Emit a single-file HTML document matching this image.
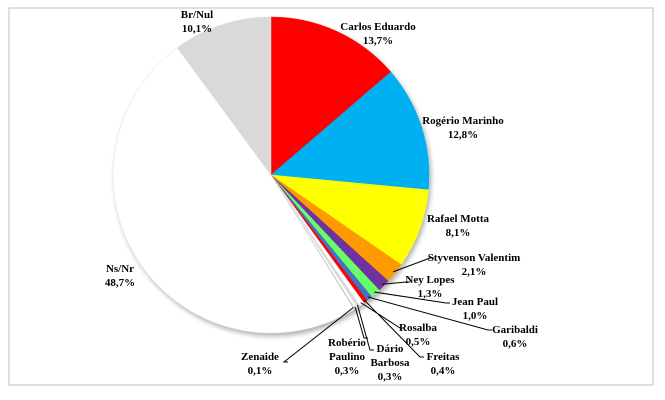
<!DOCTYPE html>
<html><head><meta charset="utf-8"><style>
body{margin:0;background:#fff;}
svg{display:block;}
text{font-family:"Liberation Serif",serif;font-weight:bold;font-size:11px;fill:#000;text-anchor:middle;}
</style></head><body>
<svg id="chart" width="665" height="400" viewBox="0 0 665 400">
<defs><filter id="sh" x="-10%" y="-10%" width="120%" height="120%"><feDropShadow dx="2" dy="3" stdDeviation="2.5" flood-color="#000" flood-opacity="0.3"/></filter></defs>
<rect x="9" y="8" width="644" height="377" fill="#fff" stroke="#bfbfbf" stroke-width="1"/>
<g id="slices" filter="url(#sh)"></g>
<g id="leaders"></g>
<g id="labels"></g>
</svg>
<script>
const categories=["Carlos Eduardo","Rogério Marinho","Rafael Motta","Styvenson Valentim","Ney Lopes","Jean Paul","Garibaldi","Freitas","Rosalba","Dário Barbosa","Robério Paulino","Zenaide","Ns/Nr","Br/Nul"];
const values=[13.7,12.8,8.1,2.1,1.3,1.0,0.6,0.4,0.5,0.3,0.3,0.1,48.7,10.1];
const valueLabels=["13,7%","12,8%","8,1%","2,1%","1,3%","1,0%","0,6%","0,4%","0,5%","0,3%","0,3%","0,1%","48,7%","10,1%"];
const colors=["#ff0000","#00b0f0","#ffff00","#ff9900","#7030a0","#66ff66","#4472c4","#ff0000","#ffffff","#d9d9d9","#ffffff","#c0c0c0","#ffffff","#d9d9d9"];
// label layout: [center x, first line y, lines], leader end [x,y] or null
const labelLines=[["Carlos Eduardo"],["Rogério Marinho"],["Rafael Motta"],["Styvenson Valentim"],["Ney Lopes"],["Jean Paul"],["Garibaldi"],["Freitas"],["Rosalba"],["Dário","Barbosa"],["Robério","Paulino"],["Zenaide"],["Ns/Nr"],["Br/Nul"]];
const labelPos=[[378,30],[463,124],[458,222],[474,261],[430,283],[475,305],[515,333],[443,360],[418,331],[390,352],[347,346],[260,360],[120,272],[197,18]];
const leaderEnd=[null,null,null,[430,258],[406,282],[446,303],[488,330],[420,357],[400,328],[370,350],[364,338],[284,362],null,null];
const cx=271,cy=175,R=158;
const NS="http://www.w3.org/2000/svg";
const total=values.reduce((a,b)=>a+b,0);
function pt(frac,r){const a=frac*2*Math.PI-Math.PI/2;return[cx+r*Math.cos(a),cy+r*Math.sin(a)];}
let acc=0;
const gS=document.getElementById('slices'),gL=document.getElementById('leaders'),gT=document.getElementById('labels');
values.forEach((v,i)=>{
  const f0=acc/total,f1=(acc+v)/total;acc+=v;
  const p0=pt(f0,R),p1=pt(f1,R),large=(f1-f0)>0.5?1:0;
  const p=document.createElementNS(NS,'path');
  p.setAttribute('d',`M${cx},${cy}L${p0[0]},${p0[1]}A${R},${R} 0 ${large} 1 ${p1[0]},${p1[1]}Z`);
  p.setAttribute('fill',colors[i]);
  p.setAttribute('stroke',colors[i]==="#ffffff"?"#e0e0e0":colors[i]);
  p.setAttribute('stroke-width','0.5');
  
  
  gS.appendChild(p);
  if(leaderEnd[i]){
    const m=pt((f0+f1)/2,R-2),e=leaderEnd[i];
    const l=document.createElementNS(NS,'polyline');
    l.setAttribute('points',`${m[0]},${m[1]} ${e[0]},${e[1]} ${e[0]+4},${e[1]}`);
    l.setAttribute('fill','none');l.setAttribute('stroke','#000');l.setAttribute('stroke-width','1');
    
    
    gL.appendChild(l);
  }
  const t=document.createElementNS(NS,'text');
  
  
  const lines=labelLines[i].concat([valueLabels[i]]);
  lines.forEach((s,k)=>{const ts=document.createElementNS(NS,'tspan');ts.setAttribute('x',labelPos[i][0]);ts.setAttribute('y',labelPos[i][1]+k*14);ts.textContent=s;t.appendChild(ts);});
  gT.appendChild(t);
});
</script>
</body></html>
